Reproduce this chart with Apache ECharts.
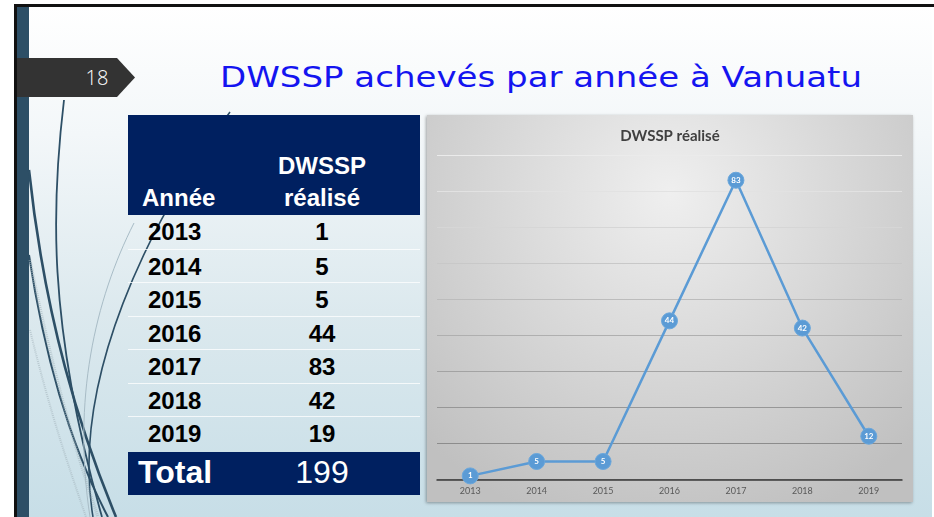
<!DOCTYPE html>
<html>
<head>
<meta charset="utf-8">
<script src="https://cdn.jsdelivr.net/npm/echarts@6/dist/echarts.min.js"></script>
<style>
  html, body { margin: 0; padding: 0; background: #fff; }
  #slide {
    position: relative; width: 934px; height: 517px; overflow: hidden;
    background: #fff;
  }
  #bg {
    position: absolute; left: 17px; top: 6px; width: 915px; height: 511px;
    background: linear-gradient(to bottom, #ffffff 0%, #f3f7f9 25%, #dce9ee 60%, #c7dee7 100%);
  }
  #topline { position: absolute; left: 14px; top: 4px; width: 920px; height: 3px; background: #111; }
  #leftline { position: absolute; left: 14px; top: 4px; width: 3px; height: 513px; background: #111; }
  #leftbar { position: absolute; left: 17px; top: 7px; width: 12px; height: 510px; background: #2d4f66; }
  #deco { position: absolute; left: 0; top: 0; }
  #table { position: absolute; left: 128px; top: 115px; width: 292px; font-family: "Liberation Sans", Arial, sans-serif; }
  .head { position: relative; height: 100px; background: #002060; color: #fff; font-weight: bold; font-size: 24px; }
  .row { position: relative; height: 33.5px; box-sizing: border-box; font-weight: bold; font-size: 24px; color: #000; }
  .row + .row { border-top: 1px solid rgba(255,255,255,0.75); }
  .total { position: relative; height: 43px; margin-top: 2px; background: #002060; color: #fff; font-size: 32px; }
  .c1 { position: absolute; left: 20px; }
  .c2 { position: absolute; left: 145px; width: 98px; text-align: center; }
  #chartbox {
    position: absolute; left: 427px; top: 115px; width: 486px; height: 387px;
    box-shadow: -1px 1px 3px rgba(0,0,0,0.35);
  }
</style>
</head>
<body>
<div id="slide">
  <div id="bg"></div>
  <div id="leftbar"></div>
  <div id="topline"></div>
  <div id="leftline"></div>
  <svg id="deco" width="934" height="517">
    <path d="M64 100 C52 200 46 320 102 517" stroke="#2d4f66" stroke-width="1.8" fill="none"/>
    <path d="M29 170 C45 320 80 430 116 517" stroke="#2d4f66" stroke-width="2.6" fill="none"/>
    <path d="M29 255 C48 380 78 460 108 517" stroke="#2d4f66" stroke-width="2" fill="none"/>
    <path d="M230 112 C150 220 70 380 93 517" stroke="#2d4f66" stroke-width="1.6" fill="none"/>
    <path d="M134 223 C95 300 72 400 90 517" stroke="#a8bcc6" stroke-width="1" fill="none"/>
    <path d="M30 260 C50 360 72 440 98 517" stroke="#9fb0b8" stroke-width="3" stroke-dasharray="1 1" fill="none" opacity="0.55"/>
    <path d="M30 330 C52 420 70 470 86 517" stroke="#9fb0b8" stroke-width="2" stroke-dasharray="1 1" fill="none" opacity="0.5"/>
    <polygon points="17,58 117,58 135,77.5 117,97 17,97" fill="#333333"/>
    <text x="97" y="85" fill="#ffffff" font-family="Open Sans, sans-serif" font-weight="300" font-size="20" text-anchor="middle">18</text>
    <text x="220" y="87" fill="#1414f0" font-family="DejaVu Sans, sans-serif" font-size="28" textLength="642" lengthAdjust="spacingAndGlyphs">DWSSP achevés par année à Vanuatu</text>
  </svg>
  <div id="table"></div>
  <div id="chartbox"></div>
</div>
<script>
  // valeurs du tableau (colonne de gauche)
  var years = ['2013', '2014', '2015', '2016', '2017', '2018', '2019'];
  var tableValues = [1, 5, 5, 44, 83, 42, 19];
  // valeurs affichées par le graphique (le dernier point porte 12)
  var chartValues = [1, 5, 5, 44, 83, 42, 12];
  var tableHeader = ['Année', 'DWSSP', 'réalisé'];
  var totalLabel = 'Total';
  var chartTitle = 'DWSSP réalisé';

  // tableau
  var total = tableValues.reduce(function (a, b) { return a + b; }, 0);
  var html = '<div class="head">' +
    '<span class="c1" style="left:14px;top:69px">' + tableHeader[0] + '</span>' +
    '<span class="c2" style="top:37px">' + tableHeader[1] + '</span>' +
    '<span class="c2" style="top:69px">' + tableHeader[2] + '</span></div>';
  years.forEach(function (y, i) {
    html += '<div class="row"><span class="c1" style="top:3px">' + y + '</span>' +
      '<span class="c2" style="top:3px">' + tableValues[i] + '</span></div>';
  });
  html += '<div class="total"><span class="c1" style="left:10px;top:2px;font-weight:bold">' + totalLabel +
    '</span><span class="c2" style="top:2px">' + total + '</span></div>';
  document.getElementById('table').innerHTML = html;

  // graphique
  var myChart = echarts.init(document.getElementById('chartbox'));
  var options = {
    animation: false,
    backgroundColor: {
      type: 'radial', x: 0.5, y: 0.2, r: 0.9,
      colorStops: [{ offset: 0, color: '#efefef' }, { offset: 1, color: '#c0c0c0' }]
    },
    title: {
      text: chartTitle, left: 'center', top: 9,
      textStyle: { fontFamily: 'Lato, sans-serif', fontSize: 15, fontWeight: 'bold', color: '#404040' }
    },
    grid: { left: 10, right: 11, top: 40, bottom: 22.5 },
    xAxis: {
      type: 'category', data: years, boundaryGap: true,
      axisLine: { lineStyle: { color: '#3a3a3a', width: 1.5 } },
      axisTick: { show: false },
      axisLabel: { color: '#595959', fontSize: 9, margin: 7, fontFamily: 'Lato, sans-serif' }
    },
    yAxis: {
      type: 'value', min: 0, max: 90, interval: 10,
      axisLabel: { show: false }, axisLine: { show: false }, axisTick: { show: false },
      splitLine: {
        lineStyle: {
          width: 1,
          color: ['#8c8c8c', '#8c8c8c', '#979797', '#a3a3a3', '#afafaf', '#bcbcbc', '#c8c8c8', '#d6d6d6', '#e2e2e2', '#ebebeb']
        }
      }
    },
    series: [{
      type: 'line', data: chartValues,
      symbol: 'circle', symbolSize: 16,
      lineStyle: { color: '#5b9bd5', width: 2.5 },
      itemStyle: { color: '#5b9bd5', borderColor: '#6aa7dc', borderWidth: 1 },
      label: {
        show: true, position: 'inside', color: '#fff',
        fontSize: 8, fontWeight: 'bold', fontFamily: 'Lato, sans-serif'
      }
    }]
  };
  myChart.setOption(options);
</script>
</body>
</html>
